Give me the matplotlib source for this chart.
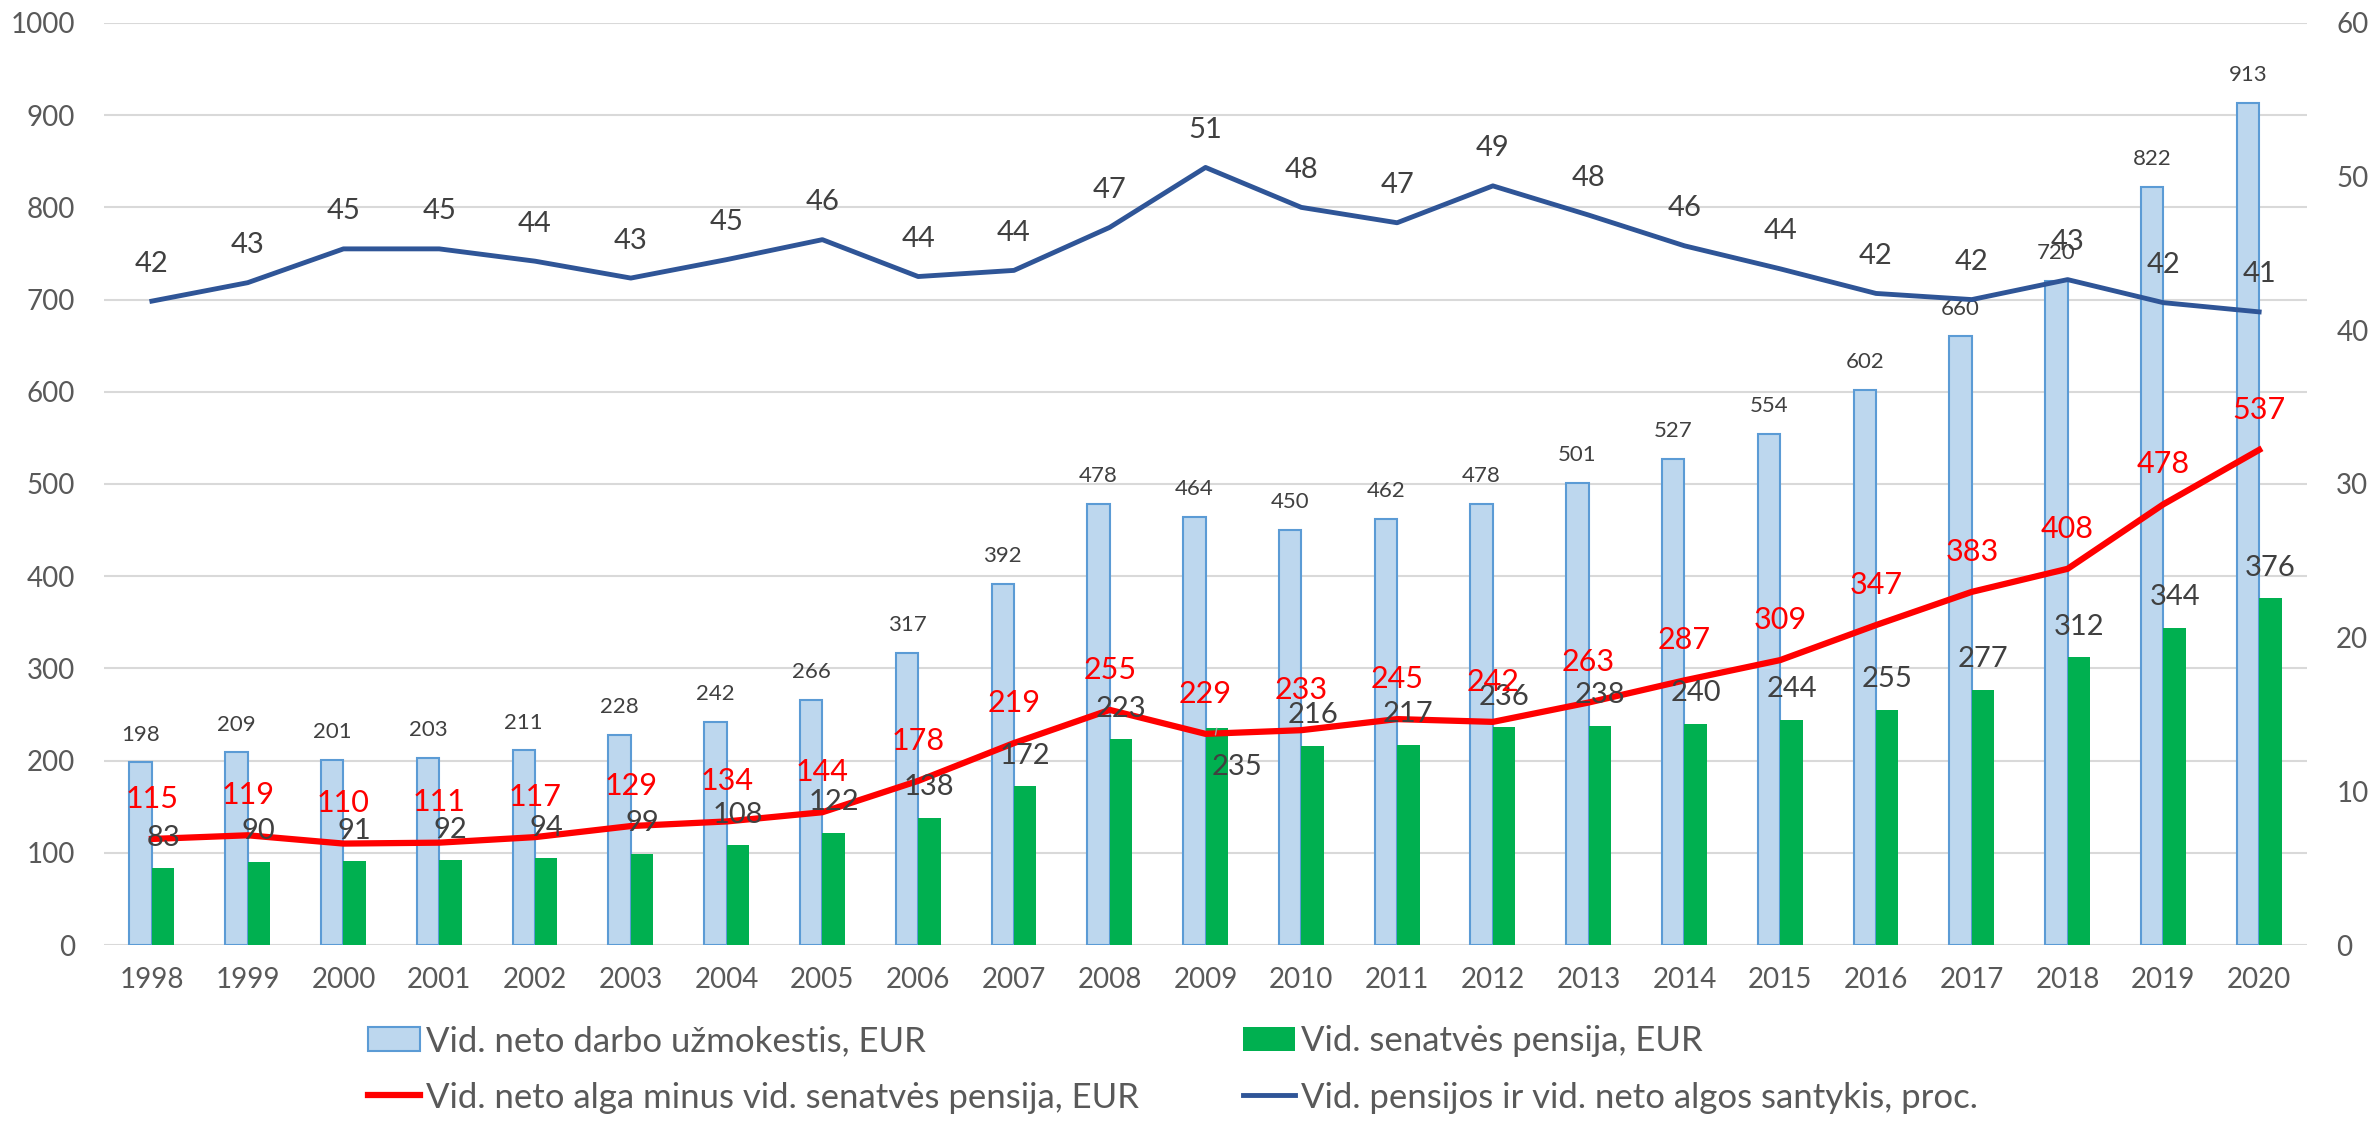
import numpy as np
import matplotlib
matplotlib.use('Agg')
import matplotlib.pyplot as plt
from matplotlib.patches import Patch
from matplotlib.lines import Line2D

plt.rcParams['font.family'] = ['Lato', 'DejaVu Sans']

# data
years = [str(y) for y in range(1998, 2021)]
wage = [198, 209, 201, 203, 211, 228, 242, 266, 317, 392, 478, 464, 450, 462,
        478, 501, 527, 554, 602, 660, 720, 822, 913]
pension = [83, 90, 91, 92, 94, 99, 108, 122, 138, 172, 223, 235, 216, 217,
           236, 238, 240, 244, 255, 277, 312, 344, 376]
diff = [115, 119, 110, 111, 117, 129, 134, 144, 178, 219, 255, 229, 233, 245,
        242, 263, 287, 309, 347, 383, 408, 478, 537]
ratio = [41.9, 43.1, 45.3, 45.3, 44.5, 43.4, 44.6, 45.9, 43.5, 43.9, 46.7, 50.6,
         48.0, 47.0, 49.4, 47.5, 45.5, 44.0, 42.4, 42.0, 43.3, 41.8, 41.2]

lab_wage = 'Vid. neto darbo užmokestis, EUR'
lab_pens = 'Vid. senatvės pensija, EUR'
lab_diff = 'Vid. neto alga minus vid. senatvės pensija, EUR'
lab_ratio = 'Vid. pensijos ir vid. neto algos santykis, proc.'

c_wage, c_wage_edge = '#BDD7EE', '#5B9BD5'
c_pens = '#00B050'
c_diff = '#FF0000'
c_ratio = '#2F5597'
c_text = '#404040'
c_tick = '#595959'

x = np.arange(len(years))
w = 0.234

fig = plt.figure(figsize=(23.74, 11.21), dpi=100)
ax = fig.add_axes([0.0438, 0.157, 0.928, 0.8225])
ax2 = ax.twinx()

ax.bar(x - w / 2, wage, w, color=c_wage, edgecolor=c_wage_edge, linewidth=1.5, zorder=2)
ax.bar(x + w / 2, pension, w, color=c_pens, zorder=2)
ax.plot(x, diff, color=c_diff, lw=4.5, zorder=3, solid_joinstyle='round')
ax2.plot(x, ratio, color=c_ratio, lw=3.5, zorder=3, solid_joinstyle='round')

ax.set_xlim(-0.5, len(years) - 0.5)
ax.set_ylim(0, 1000)
ax.set_yticks(range(0, 1001, 100))
ax2.set_ylim(0, 60)
ax2.set_yticks(range(0, 61, 10))
ax.set_xticks(x)
ax.set_xticklabels(years)

ax.grid(axis='y', color='#D9D9D9', lw=1.5, zorder=0)
ax.set_axisbelow(True)
for a in (ax, ax2):
    for s in a.spines.values():
        s.set_visible(False)
ax.tick_params(axis='y', length=0, pad=21, labelsize=20, labelcolor=c_tick)
ax.tick_params(axis='x', length=0, pad=16, labelsize=20, labelcolor=c_tick)
ax2.tick_params(axis='y', length=0, pad=21, labelsize=20, labelcolor=c_tick)

# value labels
for i in range(len(years)):
    ax.annotate(str(wage[i]), (x[i] - w / 2, wage[i]), xytext=(0, 20),
                textcoords='offset points', ha='center', va='center',
                fontsize=16, color=c_text, zorder=5)
    if years[i] == '2009':
        ax.annotate(str(pension[i]), (x[i] + w / 2, pension[i]),
                    xytext=(x[i] + 0.33, 193), textcoords='data',
                    ha='center', va='center', fontsize=21, color=c_text, zorder=5,
                    arrowprops=dict(arrowstyle='-', color='#A6A6A6', lw=1,
                                    shrinkA=12, shrinkB=0,
                                    relpos=(0.0, 1.0)))
    else:
        ax.annotate(str(pension[i]), (x[i] + w / 2, pension[i]), xytext=(0, 22),
                    textcoords='offset points', ha='center', va='center',
                    fontsize=21, color=c_text, zorder=5)
    ax.annotate(str(diff[i]), (x[i], diff[i]), xytext=(0, 29),
                textcoords='offset points', ha='center', va='center',
                fontsize=22, color=c_diff, zorder=5)
    ax2.annotate(str(int(round(ratio[i]))), (x[i], ratio[i]), xytext=(0, 27),
                 textcoords='offset points', ha='center', va='center',
                 fontsize=21, color=c_text, zorder=5)

handles = [Patch(facecolor=c_wage, edgecolor=c_wage_edge, linewidth=1.5),
           Line2D([], [], color=c_diff, lw=4.5),
           Patch(facecolor=c_pens),
           Line2D([], [], color=c_ratio, lw=3.5)]
labels = [lab_wage, lab_diff, lab_pens, lab_ratio]
fig.legend(handles, labels, ncol=2, loc='center', bbox_to_anchor=(0.494, 0.046),
           frameon=False, fontsize=25, labelcolor=c_tick, handlelength=1.5,
           handletextpad=0.17, columnspacing=3.0, labelspacing=0.7)

fig.savefig('out.png', dpi=100)
